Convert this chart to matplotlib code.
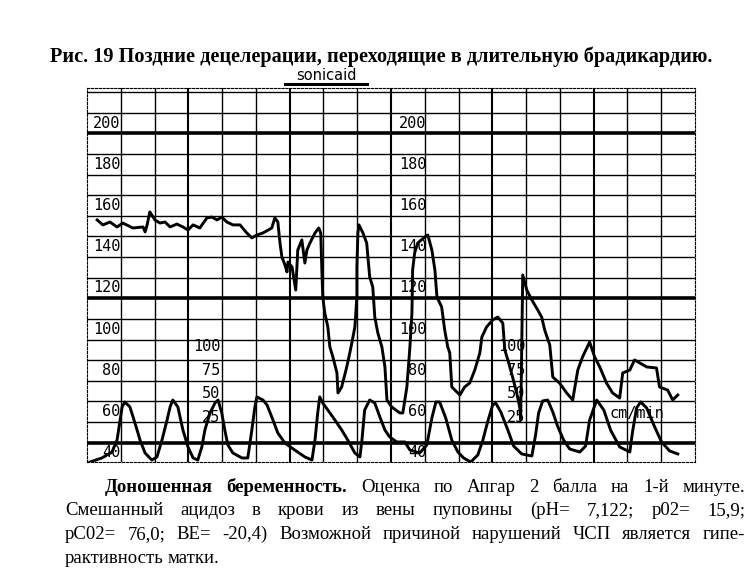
import numpy as np
import matplotlib
matplotlib.use("Agg")
import matplotlib.pyplot as plt
from matplotlib.transforms import IdentityTransform
from matplotlib.lines import Line2D

# fetal heart rate trace: time in minutes (1 grid cell = 1 min), bpm
fhr_min = [0.30, 0.47, 0.68, 0.89, 1.06, 1.36, 1.66, 1.72, 1.78, 1.86,
           2.01, 2.16, 2.31, 2.46, 2.66, 2.84, 2.99, 3.14, 3.34, 3.55,
           3.70, 3.85, 3.99, 4.14, 4.32, 4.53, 4.73, 4.88, 5.03, 5.21,
           5.36, 5.47, 5.56, 5.65, 5.71, 5.77, 5.86, 5.92, 5.95, 6.07,
           6.18, 6.24, 6.36, 6.45, 6.51, 6.60, 6.75, 6.86, 6.92, 6.95,
           6.98, 7.04, 7.13, 7.19, 7.28, 7.40, 7.43, 7.54, 7.69, 7.78,
           7.84, 7.93, 7.99, 7.99, 8.02, 8.05, 8.17, 8.28, 8.37, 8.46,
           8.52, 8.61, 8.73, 8.82, 8.88, 9.02, 9.26, 9.35, 9.47, 9.56,
           9.62, 9.64, 9.70, 9.79, 10.00, 10.09, 10.21, 10.30, 10.36, 10.50,
           10.59, 10.68, 10.74, 10.80, 10.89, 11.04, 11.18, 11.33, 11.48, 11.63,
           11.69, 11.83, 12.01, 12.16, 12.31, 12.37, 12.46, 12.60, 12.72, 12.81,
           12.84, 12.90, 13.02, 13.17, 13.31, 13.46, 13.55, 13.70, 13.79, 13.99,
           14.20, 14.38, 14.53, 14.67, 14.88, 15.03, 15.18, 15.38, 15.56, 15.77,
           15.86, 16.07, 16.21, 16.57, 16.86, 16.95, 17.19, 17.34, 17.49]
fhr_bpm = [153.0, 150.6, 152.0, 149.6, 151.5, 149.1, 149.6, 147.2, 150.6, 156.9,
           153.0, 151.5, 152.0, 149.6, 151.0, 149.6, 148.1, 150.6, 149.1, 154.0,
           154.4, 153.0, 154.4, 152.0, 150.6, 150.6, 146.7, 144.3, 145.7, 146.7,
           148.1, 149.1, 154.0, 152.0, 142.3, 135.0, 131.2, 127.8, 132.6, 130.2,
           119.0, 138.4, 143.3, 132.1, 138.4, 141.8, 146.7, 149.1, 146.7, 130.2,
           115.6, 107.9, 101.1, 91.4, 86.5, 78.8, 69.1, 72.0, 81.7, 88.5,
           93.3, 101.1, 115.6, 130.2, 146.7, 150.6, 146.7, 141.8, 125.3, 120.5,
           105.9, 98.2, 91.4, 81.7, 65.7, 62.3, 59.4, 59.4, 72.0, 91.4,
           107.9, 128.7, 137.0, 141.8, 144.7, 145.7, 138.4, 128.7, 115.6, 110.8,
           99.6, 91.4, 88.5, 72.0, 70.5, 68.1, 72.0, 73.9, 80.2, 88.5,
           96.2, 101.1, 104.5, 105.9, 103.0, 89.9, 85.1, 76.8, 69.1, 62.3,
           56.0, 126.3, 119.0, 114.2, 110.3, 105.9, 99.6, 92.4, 76.8, 73.9,
           69.1, 65.7, 80.2, 86.5, 93.8, 86.5, 81.7, 73.9, 69.1, 66.6,
           78.8, 80.2, 85.1, 81.7, 81.2, 72.0, 70.5, 65.7, 68.1]

# uterine activity trace
ua_min = [0.09, 0.44, 0.74, 0.89, 0.98, 1.04, 1.12, 1.27, 1.42, 1.57,
          1.72, 1.92, 2.07, 2.22, 2.37, 2.46, 2.54, 2.69, 2.84, 2.99,
          3.14, 3.28, 3.40, 3.49, 3.64, 3.79, 3.88, 3.99, 4.08, 4.17,
          4.32, 4.59, 4.76, 4.88, 4.97, 5.03, 5.21, 5.33, 5.47, 5.65,
          5.86, 6.15, 6.45, 6.66, 6.75, 6.83, 6.89, 6.98, 7.13, 7.34,
          7.54, 7.72, 7.93, 8.08, 8.14, 8.22, 8.37, 8.52, 8.67, 8.82,
          8.96, 9.17, 9.41, 9.56, 9.85, 10.06, 10.21, 10.33, 10.44, 10.62,
          10.80, 10.98, 11.15, 11.36, 11.57, 11.72, 11.86, 12.01, 12.10, 12.25,
          12.46, 12.63, 12.87, 13.17, 13.28, 13.37, 13.49, 13.64, 13.79, 13.93,
          14.11, 14.29, 14.59, 14.76, 14.88, 15.09, 15.30, 15.50, 15.77, 16.07,
          16.15, 16.27, 16.39, 16.57, 16.78, 17.01, 17.25, 17.49]
ua_val = [0.0, 4.3, 10.7, 23.5, 44.9, 58.9, 64.2, 58.9, 41.7, 23.5,
          9.6, 2.1, 5.4, 23.5, 44.9, 58.9, 66.3, 58.9, 34.2, 16.1,
          4.3, 2.1, 16.1, 34.2, 52.4, 63.1, 66.3, 52.4, 34.2, 18.2,
          9.6, 4.3, 4.3, 34.2, 58.9, 69.6, 66.3, 61.0, 48.2, 31.0,
          20.3, 12.8, 5.4, 2.1, 23.5, 52.4, 69.6, 63.1, 55.6, 44.9,
          34.2, 23.5, 9.6, 5.4, 23.5, 55.6, 66.3, 63.1, 48.2, 34.2,
          26.8, 21.4, 21.4, 12.8, 9.6, 18.2, 47.1, 64.2, 64.2, 47.1,
          23.5, 10.7, 4.3, 0.0, 7.5, 23.5, 42.8, 61.0, 63.1, 53.5,
          34.2, 17.1, 8.6, 6.4, 28.9, 52.4, 65.3, 66.3, 53.5, 38.5,
          23.5, 13.9, 10.7, 17.1, 44.9, 66.3, 55.6, 34.2, 16.1, 10.7,
          32.1, 57.8, 64.2, 57.8, 39.6, 21.4, 11.8, 8.6]

fhr_labels = [200, 180, 160, 140, 120, 100, 80, 60, 40]
ua_labels = [100, 75, 50, 25]

title = "Рис. 19 Поздние децелерации, переходящие в длительную брадикардию."
para = [
    [("Доношенная", True), ("беременность.", True), ("Оценка", False), ("по", False),
     ("Апгар", False), ("2", False), ("балла", False), ("на", False), ("1-й", False),
     ("минуте.", False)],
    [(w, False) for w in "Смешанный ацидоз в крови из вены пуповины (pH= 7,122; p02= 15,9;".split()],
    [(w, False) for w in "pC02= 76,0; BE= -20,4) Возможной причиной нарушений ЧСП является гипе-".split()],
    [(w, False) for w in "рактивность матки.".split()],
]

W, H = 756, 571
fig = plt.figure(figsize=(7.56, 5.71), dpi=100)
fig.patch.set_facecolor("white")
ax = fig.add_axes([87 / W, 1 - 462 / H, 608 / W, 374 / H])
ax.set_xlim(0, 18)
ax.set_ylim(35.6, 217.0)
ax.set_xticks([])
ax.set_yticks([])
for s in ax.spines.values():
    s.set_linestyle((0, (2, 1.5)))
    s.set_linewidth(0.8)

# paper grid
for v in np.arange(45, 216, 10):
    ax.axhline(v, color="black", lw=2.6 if v in (45, 115, 195) else 1.0, zorder=1)
for m in range(1, 18):
    ax.axvline(m, color="black", lw=1.5 if m % 3 == 0 else 1.0, zorder=1)

ax.plot(fhr_min, fhr_bpm, color="black", lw=2.1, solid_joinstyle="round", zorder=3)

ax2 = ax.twinx()
ax2.set_ylim(0, 400)
ax2.set_yticks([])
ax2.axis("off")
ax2.plot(ua_min, ua_val, color="black", lw=2.1, solid_joinstyle="round", zorder=3)

mono = dict(family="DejaVu Sans Mono", fontsize=11, color="black", zorder=2)
for col in (0.98, 10.05):
    for v in fhr_labels:
        ax.text(col, v, str(v), ha="right", va="center", **mono)
for col in (3.95, 12.97):
    for v in ua_labels:
        ax2.text(col, v + 23, str(v), ha="right", va="center", **mono)
ax2.text(15.47, 52, "cm/min", ha="left", va="center", **mono)

r = fig.canvas.get_renderer()

# title, fitted to the width of the scan
t = fig.text(50 / W, 1 - 62 / H, title, family="Liberation Serif", fontweight="bold",
             fontsize=13, va="baseline", ha="left")
w = t.get_window_extent(r).width
t.set_fontsize(13 * 655 / w)

fig.text(326 / W, 1 - 75 / H, "sonicaid", family="DejaVu Sans", fontsize=10.5,
         ha="center", va="center")
fig.add_artist(Line2D([285 / W, 367 / W], [1 - 83.5 / H] * 2, color="black", lw=2.2))


def put_line(words, x0, x1, yb, size, justify=True):
    arts = []
    for wd, bold in words:
        arts.append(fig.text(0, 0, wd, family="Liberation Serif", fontsize=size,
                             fontweight="bold" if bold else "normal",
                             va="baseline", ha="left", transform=IdentityTransform()))
    widths = [a.get_window_extent(r).width for a in arts]
    if justify:
        gap = (x1 - x0 - sum(widths)) / (len(arts) - 1)
    else:
        gap = size * 0.3
    x = x0
    for a, wd in zip(arts, widths):
        a.set_position((x, H - yb))
        x += wd + gap


put_line(para[0], 105, 745, 492, 13.5)
put_line(para[1], 65, 745, 515, 13.5)
put_line(para[2], 65, 745, 539, 13.5)
put_line(para[3], 65, 745, 563, 13.5, justify=False)

fig.savefig("out.png", dpi=100)
